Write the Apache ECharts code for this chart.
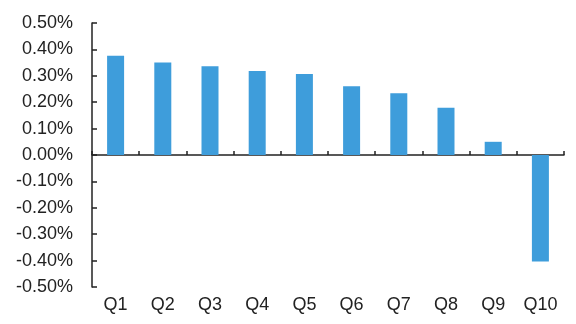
<!DOCTYPE html>
<html>
<head>
<meta charset="utf-8">
<script src="https://cdn.jsdelivr.net/npm/echarts@6/dist/echarts.min.js"></script>
<style>html,body{margin:0;padding:0;background:#fff}#c{width:576px;height:324px}</style>
</head>
<body>
<div id="c"></div>
<script>
const categories = ['Q1','Q2','Q3','Q4','Q5','Q6','Q7','Q8','Q9','Q10'];
const values = [0.376, 0.350, 0.336, 0.318, 0.307, 0.260, 0.234, 0.179, 0.050, -0.403];
const yMin = -0.5, yMax = 0.5, yStep = 0.1;

const chart = echarts.init(document.getElementById('c'), null, {renderer:'canvas'});
const font = 'Liberation Sans, Arial, sans-serif';
chart.setOption({
  animation: false,
  grid: {left: 92, right: 12, top: 23, bottom: 37, containLabel: false},
  xAxis: [
    {
      type: 'category', data: categories, position: 'bottom',
      axisLine: {show: false, onZero: false},
      axisTick: {show: false},
      axisLabel: {color: '#222', fontSize: 18, fontFamily: font, margin: 9},
      splitLine: {show: false}
    },
    {
      type: 'category', data: categories, position: 'bottom',
      axisLine: {show: true, onZero: true, lineStyle: {color: '#222', width: 1.5}},
      axisTick: {show: true, inside: true, length: 4, lineStyle: {color: '#222', width: 1.5}},
      axisLabel: {show: false},
      splitLine: {show: false}
    }
  ],
  yAxis: {
    type: 'value', min: yMin, max: yMax, interval: yStep,
    axisLine: {show: true, lineStyle: {color: '#222', width: 1.5}},
    axisTick: {show: true, inside: true, length: 5, lineStyle: {color: '#222', width: 1.5}},
    splitLine: {show: false},
    axisLabel: {
      color: '#222', fontSize: 18, fontFamily: font, margin: 19,
      formatter: v => (Math.abs(v) < 1e-9 ? 0 : v).toFixed(2) + '%'
    }
  },
  series: [{
    type: 'bar', data: values, xAxisIndex: 0,
    barWidth: 17,
    itemStyle: {color: '#3e9ddb'}
  }]
});
</script>
</body>
</html>
